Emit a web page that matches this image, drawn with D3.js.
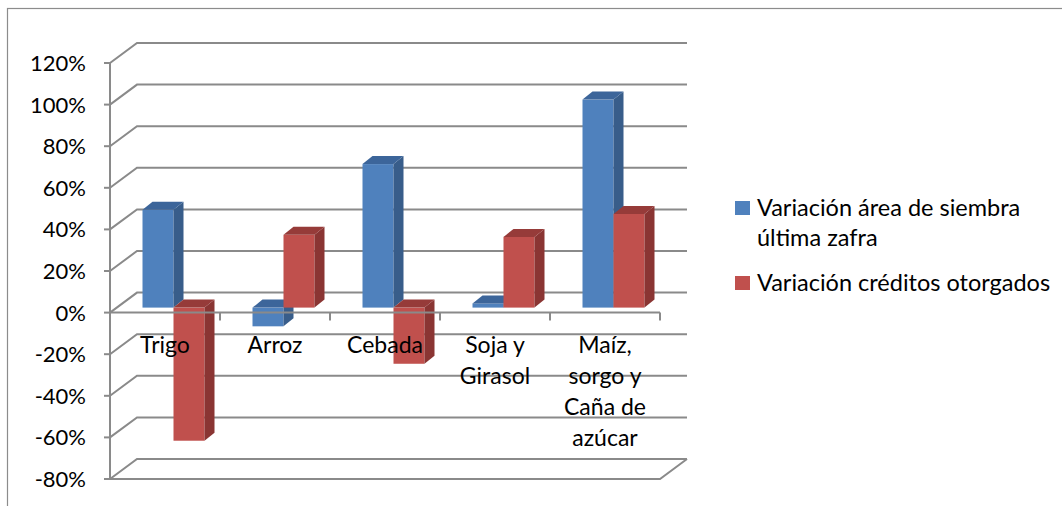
<!DOCTYPE html>
<html>
<head>
<meta charset="utf-8">
<script src="https://cdn.jsdelivr.net/npm/d3@7"></script>
<style>
  body { margin: 0; background: #fff; }
  text { font-family: Lato, "Open Sans", sans-serif; fill: #000; }
</style>
</head>
<body>
<div id="content"></div>
<script>
// data
var categories = ['Trigo', 'Arroz', 'Cebada', 'Soja y|Girasol', 'Maíz,|sorgo y|Caña de|azúcar'];
var seriesNames = ['Variación área de siembra|última zafra', 'Variación créditos otorgados'];
var areaValues = [0.47, -0.09, 0.69, 0.02, 1.00];
var creditValues = [-0.64, 0.35, -0.27, 0.34, 0.45];
var tickValues = [-0.8, -0.6, -0.4, -0.2, 0, 0.2, 0.4, 0.6, 0.8, 1.0, 1.2];

var frontColors = ['#4F81BD', '#C0504D'];
var sideColors = ['#385D8A', '#8A3533'];
var topColors = ['#3C659A', '#963B39'];

var W = 1062, H = 506;
var svg = d3.select('#content').append('svg')
    .attr('width', W)
    .attr('height', H);

// outer chart border
svg.append('rect')
    .attr('x', 7.5).attr('y', 8.5)
    .attr('width', W).attr('height', H)
    .attr('fill', 'none').attr('stroke', '#8c8c8c').attr('stroke-width', 1.2);

var y = d3.scaleLinear().domain([-0.8, 1.2]).range([479, 63]);
var x = d3.scaleBand().domain(categories).range([110, 660]);
var sub = d3.scaleBand().domain([0, 1]).range([24, 86]);

// 3d offsets: wall depth, bar position in depth, bar thickness
var wall = { dx: 27, dy: -20 };
var mid = { dx: 8.5, dy: -5 };
var depth = { dx: 10, dy: -8 };

var gridColor = '#8a8a8a';
var grid = svg.append('g').attr('stroke', gridColor).attr('stroke-width', 2).attr('fill', 'none');

// back wall gridlines and side wall diagonals
tickValues.forEach(function(v) {
    var fy = y(v);
    grid.append('path')
        .attr('d', 'M' + x.range()[0] + ',' + fy +
              'L' + (x.range()[0] + wall.dx) + ',' + (fy + wall.dy) +
              'L' + (x.range()[1] + wall.dx) + ',' + (fy + wall.dy));
    // tick mark on the value axis
    grid.append('line')
        .attr('x1', x.range()[0] - 6).attr('x2', x.range()[0])
        .attr('y1', fy).attr('y2', fy);
});

// floor front edge
grid.append('path')
    .attr('d', 'M' + x.range()[0] + ',' + y(-0.8) +
          'L' + x.range()[1] + ',' + y(-0.8) +
          'L' + (x.range()[1] + wall.dx) + ',' + (y(-0.8) + wall.dy));

// value axis
grid.append('line')
    .attr('x1', x.range()[0]).attr('x2', x.range()[0])
    .attr('y1', y(1.2)).attr('y2', y(-0.8));

// value axis labels
svg.append('g').selectAll('text')
    .data(tickValues)
    .enter().append('text')
    .attr('x', 86)
    .attr('y', function(d) { return y(d) + 8; })
    .attr('text-anchor', 'end')
    .attr('font-size', 22)
    .text(function(d) { return Math.round(d * 100) + '%'; });

// bars
var bars = [];
categories.forEach(function(c, i) {
    [areaValues[i], creditValues[i]].forEach(function(v, s) {
        bars.push({ cat: c, s: s, v: v });
    });
});

var barG = svg.append('g');
bars.forEach(function(b) {
    var x0 = x(b.cat) + sub(b.s) + mid.dx;
    var w = sub.bandwidth();
    var y0 = y(0) + mid.dy;
    var yv = y(b.v) + mid.dy;
    var top = Math.min(y0, yv), bot = Math.max(y0, yv);
    var g = barG.append('g');
    g.append('rect')
        .attr('x', x0).attr('y', top)
        .attr('width', w).attr('height', bot - top)
        .attr('fill', frontColors[b.s]);
    g.append('polygon')
        .attr('points', [[x0 + w, top], [x0 + w + depth.dx, top + depth.dy],
                         [x0 + w + depth.dx, bot + depth.dy], [x0 + w, bot]].join(' '))
        .attr('fill', sideColors[b.s]);
    g.append('polygon')
        .attr('points', [[x0, top], [x0 + depth.dx, top + depth.dy],
                         [x0 + w + depth.dx, top + depth.dy], [x0 + w, top]].join(' '))
        .attr('fill', topColors[b.s]);
});

// category axis at 0, drawn over the bars
var axisG = svg.append('g').attr('stroke', gridColor).attr('stroke-width', 2);
axisG.append('line')
    .attr('x1', x.range()[0]).attr('x2', x.range()[1])
    .attr('y1', y(0)).attr('y2', y(0));
categories.concat(['end']).forEach(function(c, i) {
    var cx = x.range()[0] + i * x.bandwidth();
    axisG.append('line')
        .attr('x1', cx).attr('x2', cx)
        .attr('y1', y(0)).attr('y2', y(0) + 8);
});

// category labels
var catG = svg.append('g');
categories.forEach(function(c) {
    var t = catG.append('text')
        .attr('text-anchor', 'middle')
        .attr('font-size', 23);
    c.split('|').forEach(function(line, k) {
        t.append('tspan')
            .attr('x', x(c) + x.bandwidth() / 2)
            .attr('y', 353 + k * 31)
            .text(line);
    });
});

// legend
var legend = svg.append('g');
seriesNames.forEach(function(name, i) {
    var ly = 216 + i * 75;
    legend.append('rect')
        .attr('x', 735).attr('y', ly - 15)
        .attr('width', 15).attr('height', 14)
        .attr('fill', frontColors[i]);
    var t = legend.append('text').attr('font-size', 23.5);
    name.split('|').forEach(function(line, k) {
        t.append('tspan')
            .attr('x', 757)
            .attr('y', ly + k * 30)
            .text(line);
    });
});
</script>
</body>
</html>
